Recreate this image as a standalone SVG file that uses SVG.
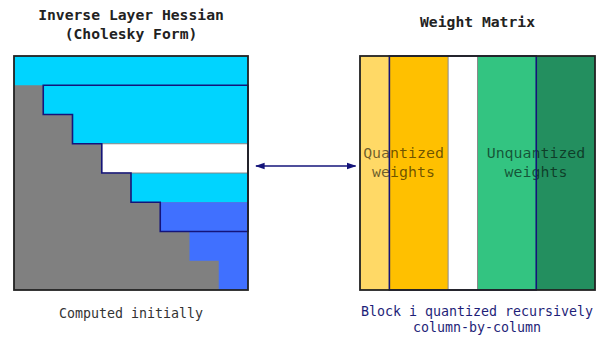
<svg xmlns="http://www.w3.org/2000/svg" width="603" height="337" viewBox="0 0 603 337">
<style>
text{font-family:"DejaVu Sans Mono","Liberation Mono",monospace;text-anchor:middle}
.title{font-size:14.7px;fill:#222;font-weight:bold}
.cap{font-size:13.3px}
.inner{font-size:14.9px;fill:#000;fill-opacity:0.58}
.cyan{fill:#00d4ff}
.blue{fill:#4070ff}
.navy{fill:none;stroke:#14147a;stroke-width:1.6}
.frame{fill:none;stroke:#222;stroke-width:1.8}
.sep{stroke:#8a8a8a;stroke-width:1}
</style>
<defs>
<marker id="ah" viewBox="0 0 10 10" refX="9" refY="5" markerWidth="6" markerHeight="6" orient="auto-start-reverse">
<path d="M0,1.5 L10,5 L0,8.5 Z" fill="#14147a"/>
</marker>
</defs>
<rect width="603" height="337" fill="#fff"/>

<g id="hessian">
<text class="title" x="131" y="19.5">Inverse Layer Hessian</text>
<text class="title" x="131" y="39">(Cholesky Form)</text>
<rect x="14" y="56" width="234" height="234" fill="#808080"/>
<path class="cyan" d="M14,56 H248 V143.75 H72.5 V114.5 H43.25 V85.25 H14 Z"/>
<rect x="101.75" y="143.75" width="146.25" height="29.25" fill="#fff" stroke="#8a8a8a" stroke-width="1"/>
<rect class="cyan" x="131" y="173.5" width="117" height="28.75"/>
<path class="blue" d="M160.25,202.25 H248 V290 H218.75 V260.75 H189.5 V231.5 H160.25 Z"/>
<path class="navy" d="M43.25,85.25 H248 V231.5 H160.25 V202.25 H131 V173 H101.75 V143.75 H72.5 V114.5 H43.25 Z"/>
<rect class="frame" x="14" y="56" width="234" height="234"/>
<text class="cap" x="131" y="317.5" fill="#333">Computed initially</text>
</g>

<g id="weights">
<text class="title" x="477.5" y="27">Weight Matrix</text>
<rect x="360" y="56" width="29.375" height="234" fill="#ffd966"/>
<rect x="389.375" y="56" width="58.75" height="234" fill="#ffc000"/>
<rect x="448.125" y="56" width="29.375" height="234" fill="#fff"/>
<rect x="477.5" y="56" width="58.75" height="234" fill="#33c481"/>
<rect x="536.25" y="56" width="58.75" height="234" fill="#238f5f"/>
<line class="sep" x1="448.125" y1="56" x2="448.125" y2="290"/>
<line class="sep" x1="477.5" y1="56" x2="477.5" y2="290"/>
<text class="inner" x="403.5" y="158.3">Quantized</text>
<text class="inner" x="403.5" y="177.3">weights</text>
<text class="inner" x="536" y="158.3">Unquantized</text>
<text class="inner" x="536" y="177.3">weights</text>
<rect class="navy" x="389.375" y="56" width="146.875" height="234"/>
<rect class="frame" x="360" y="56" width="235" height="234"/>
<text class="cap" x="477" y="315.7" fill="#1e1e78">Block i quantized recursively</text>
<text class="cap" x="477" y="332.3" fill="#1e1e78">column-by-column</text>
</g>

<g id="connectors">
<line x1="256" y1="166" x2="355.5" y2="166" stroke="#14147a" stroke-width="1.6" marker-start="url(#ah)" marker-end="url(#ah)"/>
</g>
</svg>
